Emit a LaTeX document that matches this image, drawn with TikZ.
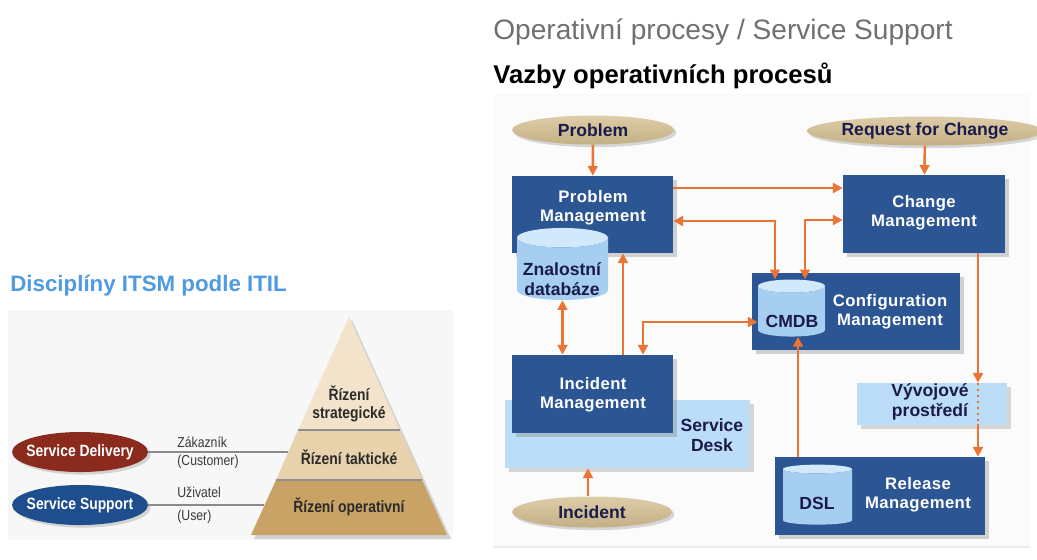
\documentclass[tikz,border=0pt]{standalone}
\usepackage{fontspec}
\setmainfont{Liberation Sans}
\newfontfamily\narrowfont[FakeStretch=0.85]{Liberation Sans}
\newfontfamily\boxfont[LetterSpace=2.5]{Liberation Sans}
\usetikzlibrary{shapes.geometric,shadows,arrows.meta}

\begin{document}
\begin{tikzpicture}[x=0.02cm, y=-0.02cm,
    mgmt/.style={rectangle, fill=boxBlue, inner sep=0pt,
        drop shadow={shadow xshift=2pt, shadow yshift=-2pt, opacity=0.35}},
    mgmttext/.style={inner sep=0pt, text=white, align=center,
        font=\boxfont\bfseries\fontsize{9.5}{10.8}\selectfont},
    desk/.style={rectangle, fill=deskBlue, inner sep=0pt,
        drop shadow={shadow xshift=2pt, shadow yshift=-2pt, opacity=0.3}},
    navytext/.style={inner sep=0pt, text=navyText, align=center,
        font=\bfseries\fontsize{10}{11.2}\selectfont},
    trigger/.style={ellipse, top color=tanLight, bottom color=tanDark,
        inner sep=0pt, navytext,
        drop shadow={shadow xshift=1.5pt, shadow yshift=-1.5pt, opacity=0.3}},
    store/.style={cylinder, shape border rotate=90, aspect=0.25, draw=none,
        cylinder uses custom fill, cylinder body fill=cylBody,
        cylinder end fill=cylTop, inner sep=0pt, navytext},
    flow/.style={draw=flowOrange, line width=1.4pt,
        -{Triangle[length=5.5pt,width=5.5pt]}},
    flowboth/.style={flow, {Triangle[length=5.5pt,width=5.5pt]}-{Triangle[length=5.5pt,width=5.5pt]}},
    role/.style={ellipse, inner xsep=-7pt, inner ysep=0pt, text=white,
        font=\narrowfont\bfseries\fontsize{9.3}{11}\selectfont,
        drop shadow={shadow xshift=1.5pt, shadow yshift=-1.5pt, opacity=0.3}},
    rolelabel/.style={anchor=west, inner sep=0pt, text=labelGray,
        font=\narrowfont\fontsize{8.2}{10}\selectfont},
    pyrtext/.style={inner sep=0pt, align=center, text=pyrText,
        font=\narrowfont\bfseries\fontsize{9.3}{10.2}\selectfont}]
    \def\px{0.02cm}

    \definecolor{titleBlue}{HTML}{4F9BE3}
    \definecolor{headGray}{HTML}{707070}
    \definecolor{layerTop}{HTML}{F2E3CA}
    \definecolor{layerMid}{HTML}{E8D2AC}
    \definecolor{layerBot}{HTML}{C9A266}
    \definecolor{sepGray}{HTML}{8F8F8F}
    \definecolor{pyrText}{HTML}{2A2A2A}
    \definecolor{deliveryRed}{HTML}{8A2B1E}
    \definecolor{supportBlue}{HTML}{1E4E8E}
    \definecolor{lineGray}{HTML}{8A8A8A}
    \definecolor{labelGray}{HTML}{3A3A3A}
    \definecolor{boxBlue}{HTML}{2B5593}
    \definecolor{deskBlue}{HTML}{BBDDF7}
    \definecolor{cylBody}{HTML}{A6CEF0}
    \definecolor{cylTop}{HTML}{D2E8FB}
    \definecolor{tanLight}{HTML}{DDCDA8}
    \definecolor{tanDark}{HTML}{C4AF84}
    \definecolor{navyText}{HTML}{1B1B4B}
    \definecolor{flowOrange}{HTML}{EA7433}

    \useasboundingbox[fill=white] (0,0) rectangle (1037,559);

    % Left: ITSM disciplines
    \node[anchor=base west, inner sep=0pt, text=titleBlue,
        font=\bfseries\fontsize{12.7}{15}\selectfont] (itsmtitle) at (10,291)
        {Disciplíny ITSM podle ITIL};
    \fill[black!3] (8,310) rectangle (453,540);

    % Pyramid with three layers
    \coordinate (apex) at (349,317);
    \fill[black, opacity=0.15] (352,320) -- (451,539) -- (254,539) -- cycle;
    \fill[layerTop] (apex) -- (400,430) -- (298,430) -- cycle;
    \fill[layerMid] (298,430) -- (400,430) -- (422,480) -- (276,480) -- cycle;
    \fill[layerBot] (276,480) -- (422,480) -- (447,535) -- (251,535) -- cycle;
    \draw[sepGray, line width=1.6pt] (298,430) -- (400,430);
    \draw[sepGray, line width=1.6pt] (276,480) -- (422,480);
    \node[pyrtext] (strategic) at (349,404) {Řízení\\strategické};
    \node[pyrtext] (tactical) at (349,457) {Řízení taktické};
    \node[pyrtext] (operative) at (349,507) {Řízení operativní};

    % Roles and their links to the pyramid
    \node[role, fill=deliveryRed, minimum width=136*\px, minimum height=40*\px]
        (delivery) at (80,452) {Service Delivery};
    \node[role, fill=supportBlue, minimum width=136*\px, minimum height=40*\px]
        (support) at (80,505) {Service Support};
    \coordinate (tacticalEdge) at (288,452);
    \coordinate (operativeEdge) at (264,505);
    \draw[lineGray, line width=0.9pt] (delivery) -- (tacticalEdge);
    \draw[lineGray, line width=0.9pt] (support) -- (operativeEdge);
    \node[rolelabel] (customerCz) at (177,442) {Zákazník};
    \node[rolelabel] (customerEn) at (177,462) {(Customer)};
    \node[rolelabel] (userCz) at (177,492) {Uživatel};
    \node[rolelabel] (userEn) at (177,517) {(User)};

    % Right: headings
    \node[anchor=base west, inner sep=0pt, text=headGray,
        font=\fontsize{16}{19}\selectfont] (rightHead) at (493,39)
        {Operativní procesy / Service Support};
    \node[anchor=base west, inner sep=0pt,
        font=\bfseries\fontsize{14.6}{17}\selectfont] (rightSub) at (493,83)
        {Vazby operativních procesů};
    \fill[black!1.5] (493,94) rectangle (1030,547);
    \draw[black!8, line width=0.6pt] (493,547) -- (1030,547);

    % Process boxes
    \node[desk, minimum width=245*\px, minimum height=68*\px] (desk) at (627.5,434) {};
    \node[navytext] (deskText) at (712,435) {Service\\Desk};
    \node[mgmt, minimum width=161*\px, minimum height=77*\px] (pm) at (592.5,214.5) {};
    \node[mgmttext] (pmText) at (593,208) {Problem\\Management};
    \node[mgmt, minimum width=161*\px, minimum height=78*\px] (im) at (592.5,394) {};
    \node[mgmttext] (imText) at (593,395) {Incident\\Management};
    \node[mgmt, minimum width=162*\px, minimum height=78*\px] (cm) at (924,214) {};
    \node[mgmttext] (cmText) at (924,213) {Change\\Management};
    \node[mgmt, minimum width=208*\px, minimum height=77*\px] (cfg) at (856,311.5) {};
    \node[mgmttext] (cfgText) at (890,312) {Configuration\\Management};
    \node[mgmt, minimum width=210*\px, minimum height=78*\px] (rm) at (880,496) {};
    \node[mgmttext] (rmText) at (918,495) {Release\\Management};
    \node[desk, minimum width=150*\px, minimum height=42*\px] (dev) at (932,404) {};
    \node[navytext] (devText) at (930,402) {Vývojové\\prostředí};

    % Databases (phantom text keeps the cylinder ends round)
    \node[store, minimum width=91*\px, minimum height=72*\px] (kdb) at (562.5,269)
        {\phantom{Znalostní}\\\phantom{databáze}};
    \node[navytext] (kdbText) at (562,279) {Znalostní\\databáze};
    \node[store, minimum width=67*\px, minimum height=57*\px] (cmdb) at (791.5,311.5)
        {\phantom{CMDB}};
    \node[navytext] (cmdbText) at (792,321) {CMDB};
    \node[store, minimum width=69*\px, minimum height=60*\px] (dsl) at (817.5,497)
        {\phantom{DSL}};
    \node[navytext] (dslText) at (817,503) {DSL};

    % Triggers
    \node[trigger, minimum width=162*\px, minimum height=29*\px] (problem) at (593,130) {Problem};
    \node[trigger, minimum width=200*\px, minimum height=29*\px] (rfc) at (925,131) {Request for Change};
    \node[trigger, minimum width=160*\px, minimum height=31*\px] (incident) at (592,512) {Incident};

    % Flows
    \draw[flow] (problem) -- (pm);
    \draw[flow] (rfc) -- (cm);
    \draw[flow] (incident.north -| 588,0) -- (desk.south -| 588,0);
    \draw[flow] (pm.east |- 0,188) -- (cm.west |- 0,188);
    \draw[flowboth] (pm.east |- 0,221) -| (cmdb.north -| 775,0);
    \draw[flowboth] (cm.west |- 0,220) -| (cmdb.north -| 805,0);
    \draw[flowboth] (cmdb.west |- 0,322) -| (im.north -| 643,0);
    \draw[flow] (im.north -| 623,0) -- (pm.south -| 623,0);
    \draw[flowboth] (kdb.south) -- (im.north -| kdb.south);
    \draw[flow] (rm.north -| 798,0) -- (cmdb.south -| 798,0);
    \draw[flow] (cm.south -| 978,0) -- (dev.north -| 978,0);
    \draw[flowOrange, line width=1.4pt, dotted] (dev.north -| 978,0) -- (dev.south -| 978,0);
    \draw[flow] (dev.south -| 978,0) -- (rm.north -| 978,0);

\end{tikzpicture}
\end{document}
